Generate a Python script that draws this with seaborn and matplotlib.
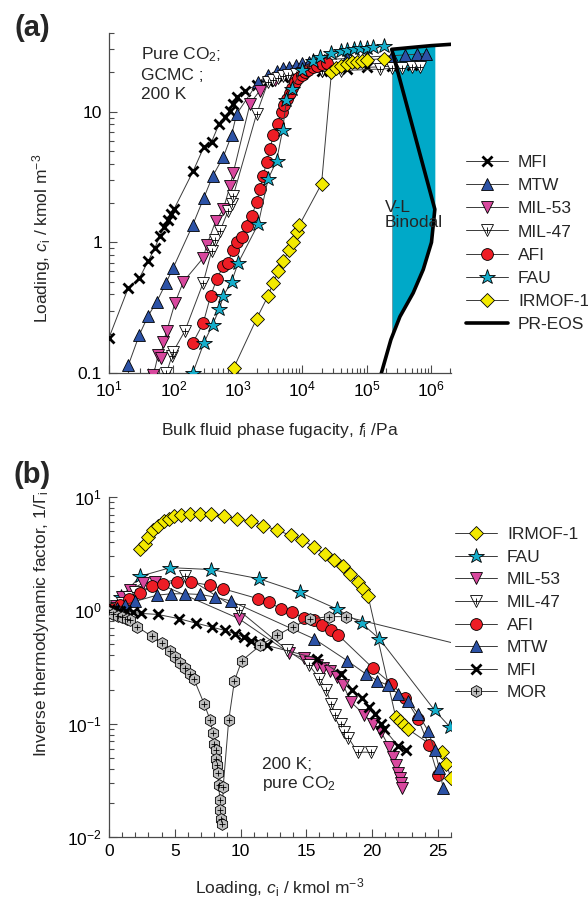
import numpy as np
import matplotlib
matplotlib.use("Agg")
import matplotlib.pyplot as plt
import seaborn as sns
from matplotlib.lines import Line2D
from matplotlib.ticker import LogLocator, NullFormatter, FixedLocator, FixedFormatter, MultipleLocator
from matplotlib.legend_handler import HandlerTuple

sns.set_style("ticks")
plt.rcParams['font.family'] = ['Liberation Sans', 'DejaVu Sans']
plt.rcParams['mathtext.fontset'] = 'custom'
plt.rcParams['mathtext.rm'] = 'Liberation Sans'
plt.rcParams['mathtext.it'] = 'Liberation Sans:italic'
plt.rcParams['mathtext.bf'] = 'Liberation Sans:bold'

# ---------------- (a) adsorption isotherms: fugacity (Pa) vs loading (kmol/m3)
mfi_f = [10, 20, 29.5, 40.7, 51.7, 62, 71, 83, 93, 102, 204, 299, 393, 516, 630, 760, 850, 960,
         1300, 2000, 3000, 5000, 1e4, 2e4, 5e4, 1e5, 2.5e5, 5e5]
mfi_c = [0.186, 0.45, 0.53, 0.72, 0.91, 1.12, 1.30, 1.48, 1.64, 1.79, 3.53, 5.4, 5.9, 8.1, 9.1, 10.2, 11.5, 13.0,
         14.5, 16.0, 17.3, 18.5, 19.7, 20.5, 21.3, 21.8, 22.3, 22.6]

mtw_f = [20, 29.6, 40.7, 55, 77, 99.5, 199, 298, 406, 596, 800, 960, 2080, 2960, 4000, 5000, 6300,
         8000, 1e4, 1.3e4, 1.7e4, 2.2e4, 5e4, 1e5, 2.5e5, 4e5, 6e5, 8.5e5]
mtw_c = [0.115, 0.196, 0.275, 0.35, 0.49, 0.64, 1.35, 2.2, 3.2, 4.5, 6.6, 9.6, 16.9, 19.0, 20.6, 21.4, 22.1,
         22.8, 23.4, 24.0, 24.5, 24.9, 25.6, 26.2, 26.8, 27.2, 27.5, 27.8]

mil53_f = [49, 58, 64, 70, 79, 106, 143, 290, 330, 455, 596, 757, 850, 1550, 2200, 3800, 6000, 1e4, 2e4]
mil53_c = [0.096, 0.138, 0.13, 0.174, 0.21, 0.345, 0.50, 0.76, 0.95, 1.46, 1.79, 2.7, 3.4, 11.5, 14.5, 17.4,
           18.8, 19.8, 20.6]

mil47_f = [78, 95, 99.5, 151, 290, 393, 440, 528, 710, 800, 850, 1960, 2960, 3500, 4200, 5000, 6000,
           8000, 1.2e4, 2e4, 4e4, 1.6e5, 2.5e5, 3.5e5, 5e5, 6.7e5]
mil47_c = [0.10, 0.135, 0.146, 0.21, 0.49, 0.86, 1.05, 1.22, 1.74, 1.96, 2.27, 9.6, 16.9, 17.6, 18.1, 18.6,
           19.0, 19.5, 19.9, 20.3, 20.6, 21.2, 21.4, 21.6, 21.8, 22.0]

afi_f = [199, 290, 379, 470, 596, 700, 850, 960, 1150, 1370, 1640, 1960, 2200, 2480, 2800, 3160, 3560,
         4240, 4800, 5300, 5800, 6400, 7000, 7800, 8700, 9800, 1.1e4, 1.25e4, 1.45e4, 1.7e4, 2.0e4, 2.4e4]
afi_c = [0.169, 0.24, 0.39, 0.52, 0.66, 0.70, 0.88, 1.0, 1.1, 1.33, 1.59, 2.02, 2.56, 3.23, 4.1, 5.2, 6.6,
         8.1, 9.9, 11.2, 12.5, 14.0, 15.3, 16.8, 18.0, 19.2, 20.2, 21.0, 21.8, 22.5, 23.0, 23.5]

fau_f = [200, 298, 406, 520, 596, 800, 1020, 2080, 2960, 4000, 4960, 5700, 6900, 9800, 1.5e4, 1.9e4,
         2.85e4, 4e4, 5e4, 6.5e4, 8e4, 1e5, 1.25e5, 1.9e5]
fau_c = [0.10, 0.17, 0.234, 0.31, 0.39, 0.50, 0.70, 1.38, 3.05, 4.2, 7.2, 12.2, 15.0, 20.8, 24.5, 26.3,
         28.0, 29.0, 29.8, 30.2, 30.5, 30.8, 31.0, 32.0]

irmof_f = [870, 1960, 2960, 3560, 4240, 5100, 6300, 7300, 8200, 9000, 2.0e4, 2.85e4, 3.3e4, 4e4, 5e4,
           6e4, 7e4, 8.5e4, 1e5, 1.9e5]
irmof_c = [0.11, 0.26, 0.39, 0.49, 0.60, 0.72, 0.88, 1.0, 1.2, 1.35, 2.8, 20.0, 21.5, 22.5, 23.3,
           23.8, 24.2, 24.6, 24.9, 25.5]

# Peng-Robinson equation of state isotherm (gas branch, loop, liquid branch)
pr_f = [1.4e5, 1.7e5, 2.39e5, 3.3e5, 5.3e5, 7.6e5, 1.02e6, 1.15e6, 2.46e5, 5e5, 1e6, 2.1e6]
pr_c = [0.08, 0.10, 0.18, 0.27, 0.41, 0.62, 1.0, 1.79, 30.0, 31.0, 32.0, 32.8]
binodal_f = [2.46e5, 1.15e6]

# ---------------- (b) inverse thermodynamic factor vs loading
irmof_L = [2.37, 2.75, 3.0, 3.33, 3.69, 4.15, 4.53, 4.91, 5.47, 6.13, 6.95, 7.76, 8.73, 9.75, 10.76, 11.73,
           12.75, 13.8, 14.7, 15.6, 16.4, 17.1, 17.76, 18.35, 18.9, 19.3, 19.7, 21.8, 22.1, 22.4, 22.7, 25.3,
           25.65, 26.0]
irmof_v = [3.5, 3.87, 4.44, 5.1, 5.6, 6.1, 6.4, 6.75, 6.9, 7.1, 7.1, 7.1, 6.75, 6.45, 6.1, 5.6,
           5.1, 4.6, 4.2, 3.6, 3.16, 2.8, 2.45, 2.1, 1.78, 1.55, 1.33, 0.114, 0.105, 0.097, 0.09, 0.056,
           0.044, 0.033]

fau_L = [0.2, 0.9, 2.37, 4.66, 7.76, 11.4, 14.5, 17.3, 19.2, 20.56, 24.76, 25.9]
fau_v = [1.02, 1.3, 2.0, 2.38, 2.29, 1.9, 1.44, 1.03, 0.77, 0.56, 0.131, 0.094]

mil53_L = [0.1, 0.5, 1.0, 1.6, 2.6, 3.5, 9.87, 13.7, 14.8, 15.3, 15.8, 16.3, 16.8, 17.3, 17.8, 18.4, 19.4,
           20.05, 20.7, 21.3, 21.6, 21.8, 21.96, 22.1, 22.2, 22.25]
mil53_v = [1.0, 1.1, 1.3, 1.52, 1.74, 1.78, 0.845, 0.42, 0.38, 0.35, 0.33, 0.31, 0.29, 0.26, 0.22, 0.155,
           0.12, 0.10, 0.084, 0.062, 0.051, 0.043, 0.037, 0.033, 0.030, 0.027]

mil47_L = [0.1, 0.5, 1.0, 1.5, 2.0, 5.8, 9.87, 13.5, 15.2, 16.0, 16.5, 16.9, 17.2, 17.6, 17.9, 18.2, 18.9,
           19.9]
mil47_v = [1.0, 1.05, 1.15, 1.3, 1.45, 2.0, 1.0, 0.45, 0.33, 0.25, 0.2, 0.15, 0.12, 0.1, 0.085, 0.075,
           0.056, 0.056]

afi_L = [0.2, 0.8, 1.5, 2.37, 3.26, 4.1, 5.2, 6.26, 7.66, 8.68, 11.3, 12.2, 13.05, 13.95, 14.8, 15.6, 16.2,
         16.9, 17.4, 20.05, 21.45, 22.5, 23.5, 24.3, 25.0]
afi_v = [1.02, 1.12, 1.25, 1.42, 1.63, 1.7, 1.78, 1.78, 1.66, 1.55, 1.27, 1.18, 1.03, 0.97, 0.85, 0.82, 0.74,
         0.67, 0.61, 0.31, 0.225, 0.17, 0.11, 0.065, 0.035]

mtw_L = [0.1, 0.6, 1.2, 2.0, 3.64, 4.73, 5.8, 6.95, 8.04, 9.24, 15.6, 18.1, 19.5, 20.4, 21.2, 21.96, 22.7,
         23.5, 24.25, 24.76, 25.1, 25.4]
mtw_v = [1.0, 1.05, 1.12, 1.2, 1.36, 1.4, 1.4, 1.38, 1.31, 1.21, 0.56, 0.36, 0.276, 0.24, 0.218, 0.184,
         0.16, 0.122, 0.087, 0.058, 0.041, 0.027]

mfi_L = [0.0, 0.4, 0.8, 1.3, 1.8, 2.4, 3.7, 5.3, 6.64, 7.84, 8.8, 9.6, 10.25, 10.76, 11.4, 12.0, 15.85,
         17.6, 18.5, 19.2, 19.8, 20.2, 20.7, 20.9, 21.96, 22.6]
mfi_v = [1.0, 1.0, 0.99, 0.98, 0.96, 0.94, 0.92, 0.845, 0.77, 0.71, 0.665, 0.62, 0.58, 0.54, 0.515, 0.49,
         0.375, 0.276, 0.2, 0.17, 0.14, 0.122, 0.10, 0.09, 0.064, 0.058]

mor_L = [0.0, 0.33, 0.67, 1.0, 1.34, 1.6, 2.1, 3.26, 4.0, 4.6, 5.04, 5.42, 5.8, 6.13, 6.44, 7.25, 7.7, 7.9,
         8.0, 8.1, 8.17, 8.22, 8.27, 8.35, 8.42, 8.47, 8.53, 8.6, 8.68, 9.1, 9.54, 10.1, 11.5, 12.75, 14.0,
         15.3, 16.7, 18.0, 30.0]
mor_v = [0.97, 0.93, 0.9, 0.87, 0.84, 0.82, 0.72, 0.59, 0.51, 0.44, 0.39, 0.34, 0.31, 0.276, 0.25, 0.148,
         0.107, 0.082, 0.066, 0.058, 0.049, 0.043, 0.037, 0.029, 0.021, 0.0173, 0.0145, 0.013, 0.0277, 0.107,
         0.24, 0.36, 0.49, 0.60, 0.72, 0.84, 0.88, 0.88, 0.40]

# ---------------- marker styles
LINE_C = '#3a3a3a'
STYLE = {
    'MFI':     dict(marker='x', fc='black',   ms=7.5, mew=2.0),
    'MTW':     dict(marker='^', fc='#2C52A6', ms=8.5, mew=0.6),
    'MIL-53':  dict(marker='v', fc='#D8489E', ms=8.5, mew=0.6),
    'MIL-47':  dict(marker='v', fc='white',   ms=8.5, mew=0.6, plus=True),
    'AFI':     dict(marker='o', fc='#EE1D25', ms=8.5, mew=0.6),
    'FAU':     dict(marker='*', fc='#15AECB', ms=11.5, mew=0.6),
    'IRMOF-1': dict(marker='D', fc='#F3EA00', ms=7.5, mew=0.6),
    'MOR':     dict(marker='h', fc='#BDBDBD', ms=8.5, mew=0.6, plus=True),
}


def draw_series(ax, x, y, name, z):
    st = STYLE[name]
    sns.lineplot(x=x, y=y, ax=ax, sort=False, estimator=None, color=LINE_C, linewidth=0.7,
                 marker=st['marker'], markersize=st['ms'], markerfacecolor=st['fc'],
                 markeredgecolor='black', markeredgewidth=st['mew'], zorder=z)
    if st.get('plus'):
        sns.lineplot(x=x, y=y, ax=ax, sort=False, estimator=None, color='black', linestyle='none',
                     marker='+', markersize=3.8, markeredgecolor='black', markeredgewidth=0.6,
                     zorder=z + 0.1)


def handle(name):
    st = STYLE[name]
    h = Line2D([0], [0], color=LINE_C, lw=0.7, marker=st['marker'], markersize=st['ms'],
               markerfacecolor=st['fc'], markeredgecolor='black', markeredgewidth=st['mew'])
    if st.get('plus'):
        p = Line2D([0], [0], color='black', lw=0, marker='+', markersize=3.8,
                   markeredgecolor='black', markeredgewidth=0.6)
        return (h, p)
    return h


def style_axes(ax):
    sns.despine(ax=ax)
    for s in ('left', 'bottom'):
        ax.spines[s].set_color('#4a4a4a')
        ax.spines[s].set_linewidth(0.9)
    ax.tick_params(which='both', direction='in', colors='#4a4a4a', labelcolor='black',
                   labelsize=12.5, width=0.8)
    ax.tick_params(which='major', length=6, pad=5)
    ax.tick_params(which='minor', length=3.5)


W, H = 588, 906
fig = plt.figure(figsize=(W / 100, H / 100), dpi=100)


def fx(px):
    return px / W


def fy(py):
    return 1 - py / H


ax_a = fig.add_axes([fx(109), fy(373), fx(451) - fx(109), fy(33) - fy(373)])
ax_b = fig.add_axes([fx(109), fy(837), fx(451) - fx(109), fy(497) - fy(837)])

# ---------------- panel (a)
ax_a.set_xscale('log')
ax_a.set_yscale('log')
ax_a.set_xlim(10, 2.05e6)
ax_a.set_ylim(0.1, 40)

# two-phase region between the binodal fugacities
gas_lf = np.log10(pr_f[:8])
gas_lc = np.log10(pr_c[:8])
liq_lf = np.log10(pr_f[8:])
liq_lc = np.log10(pr_c[8:])
band_lf = np.linspace(np.log10(binodal_f[0]), np.log10(binodal_f[1]), 200)
band_lo = 10 ** np.interp(band_lf, gas_lf, gas_lc)
band_hi = 10 ** np.interp(band_lf, liq_lf, liq_lc)
ax_a.fill_between(10 ** band_lf, band_lo, band_hi, color='#00A9C8', lw=0, zorder=1)
ax_a.plot([binodal_f[0]] * 2, [band_lo[0], band_hi[0]], color='#7a9aa0', lw=0.6, zorder=1.1)

series_a = [('MFI', mfi_f, mfi_c), ('MTW', mtw_f, mtw_c), ('MIL-53', mil53_f, mil53_c),
            ('MIL-47', mil47_f, mil47_c), ('AFI', afi_f, afi_c), ('FAU', fau_f, fau_c),
            ('IRMOF-1', irmof_f, irmof_c)]
for i, (name, x, y) in enumerate(series_a):
    draw_series(ax_a, x, y, name, 3 + i)

sns.lineplot(x=pr_f, y=pr_c, ax=ax_a, sort=False, estimator=None, color='black', linewidth=2.6,
             zorder=12)

ax_a.xaxis.set_major_locator(FixedLocator([1e1, 1e2, 1e3, 1e4, 1e5, 1e6]))
ax_a.xaxis.set_major_formatter(FixedFormatter([r'10$^{%d}$' % k for k in range(1, 7)]))
ax_a.xaxis.set_minor_locator(LogLocator(base=10, subs=np.arange(2, 10)))
ax_a.xaxis.set_minor_formatter(NullFormatter())
ax_a.yaxis.set_major_locator(FixedLocator([0.1, 1, 10]))
ax_a.yaxis.set_major_formatter(FixedFormatter(['0.1', '1', '10']))
ax_a.yaxis.set_minor_locator(LogLocator(base=10, subs=np.arange(2, 10)))
ax_a.yaxis.set_minor_formatter(NullFormatter())
ax_a.set_xlabel('')
ax_a.set_ylabel('')
style_axes(ax_a)

ax_a.text(fx(141), fy(45), 'Pure CO$_2$;\nGCMC ;\n200 K', transform=fig.transFigure,
          fontsize=12.5, va='top', ha='left', linespacing=1.35)
ax_a.text(fx(385), fy(215), 'V-L\nBinodal', transform=fig.transFigure, fontsize=12.5,
          va='center', ha='left', linespacing=1.05, zorder=20)

names_a = ['MFI', 'MTW', 'MIL-53', 'MIL-47', 'AFI', 'FAU', 'IRMOF-1']
handles_a = [handle(n) for n in names_a] + [Line2D([0], [0], color='black', lw=2.6)]
fig.legend(handles_a, names_a + ['PR-EOS'], loc='upper left', bbox_to_anchor=(fx(466), fy(155)),
           frameon=False, borderpad=0, borderaxespad=0, handlelength=2.4, handletextpad=0.6,
           labelspacing=0.46, fontsize=12.5, handler_map={tuple: HandlerTuple(ndivide=1)})

# ---------------- panel (b)
ax_b.set_yscale('log')
ax_b.set_xlim(0, 26)
ax_b.set_ylim(0.01, 10)

series_b = [('IRMOF-1', irmof_L, irmof_v), ('FAU', fau_L, fau_v), ('MIL-53', mil53_L, mil53_v),
            ('MIL-47', mil47_L, mil47_v), ('AFI', afi_L, afi_v), ('MTW', mtw_L, mtw_v),
            ('MFI', mfi_L, mfi_v), ('MOR', mor_L, mor_v)]
for i, (name, x, y) in enumerate(series_b):
    draw_series(ax_b, x, y, name, 3 + i)

ax_b.xaxis.set_major_locator(FixedLocator([0, 5, 10, 15, 20, 25]))
ax_b.xaxis.set_minor_locator(MultipleLocator(1))
ax_b.yaxis.set_major_locator(FixedLocator([0.01, 0.1, 1, 10]))
ax_b.yaxis.set_major_formatter(FixedFormatter(['10$^{-2}$', '10$^{-1}$', '10$^{0}$', '10$^{1}$']))
ax_b.yaxis.set_minor_locator(LogLocator(base=10, subs=np.arange(2, 10)))
ax_b.yaxis.set_minor_formatter(NullFormatter())
ax_b.set_xlabel('')
ax_b.set_ylabel('')
style_axes(ax_b)

ax_b.text(fx(262), fy(775), '200 K;\npure CO$_2$', transform=fig.transFigure, fontsize=12.5,
          va='center', ha='left', linespacing=1.2)

names_b = ['IRMOF-1', 'FAU', 'MIL-53', 'MIL-47', 'AFI', 'MTW', 'MFI', 'MOR']
fig.legend([handle(n) for n in names_b], names_b, loc='upper left', bbox_to_anchor=(fx(455), fy(527)),
           frameon=False, borderpad=0, borderaxespad=0, handlelength=2.4, handletextpad=0.6,
           labelspacing=0.43, fontsize=12.5, handler_map={tuple: HandlerTuple(ndivide=1)})

# ---------------- axis titles and panel letters
fig.text(fx(32), fy(28), '(a)', fontsize=21, fontweight='bold', ha='center', va='center')
fig.text(fx(32), fy(475), '(b)', fontsize=21, fontweight='bold', ha='center', va='center')
fig.text(fx(42), fy(238), 'Loading, $c_\\mathrm{i}$ / kmol m$^{-3}$', rotation=90, fontsize=12.5,
         ha='center', va='center')
fig.text(fx(42), fy(624), 'Inverse thermodynamic factor, 1/\u0393$_\\mathrm{i}$', rotation=90,
         fontsize=12.5, ha='center', va='center')
fig.text(fx(280), fy(430), 'Bulk fluid phase fugacity, $f_\\mathrm{i}$ /Pa', fontsize=12.5,
         ha='center', va='center')
fig.text(fx(280), fy(888), 'Loading, $c_\\mathrm{i}$ / kmol m$^{-3}$', fontsize=12.5,
         ha='center', va='center')

fig.savefig('out.png', dpi=100)
